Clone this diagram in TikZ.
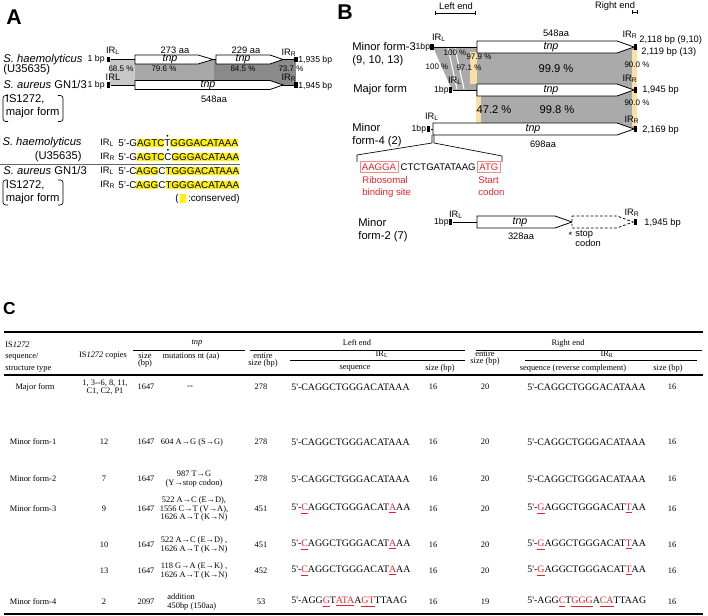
\documentclass[tikz,border=0pt]{standalone}
\usepackage{fontspec}
\setmainfont{Liberation Sans}
\newfontfamily\tabfont{Liberation Serif}
\usetikzlibrary{positioning}
\definecolor{hly}{RGB}{255,242,0}
\definecolor{peach}{RGB}{250,224,165}
\definecolor{grlight}{RGB}{200,200,200}
\definecolor{grmid}{RGB}{168,168,168}
\definecolor{grdark}{RGB}{138,138,138}
\definecolor{grB}{RGB}{170,170,170}
\definecolor{seqred}{RGB}{226,35,45}
\definecolor{boxred}{RGB}{240,140,140}
\newcommand{\hlt}[1]{{\setlength{\fboxsep}{0pt}\colorbox{hly}{\rule[-1pt]{0pt}{6.6pt}#1}}}
\newcommand{\topdot}[1]{\sbox0{#1}\rlap{\hbox to \wd0{\hss\raisebox{6pt}[0pt][0pt]{\fontsize{5}{5}\selectfont\textbullet}\hss}}#1}
\newcommand{\mut}[1]{\textcolor{seqred}{\underline{#1}}}

\begin{document}
\begin{tikzpicture}[x=0.75pt,y=-0.75pt,line width=0.6pt]
	\useasboundingbox (0,0) rectangle (708,616);
	\def \rowhae{59.5}
	\def \rowaur{85}
	\def \rowmthree{47}
	\def \rowmajor{90}
	\def \rowmfour{129}
	\def \rowmtwo{222}
	\tikzstyle{panel}=[font=\fontsize{16}{18}\selectfont\bfseries,inner sep=0pt]
	\tikzstyle{sp}=[font=\fontsize{8.4}{9.8}\selectfont,inner sep=0pt]
	\tikzstyle{lab}=[font=\fontsize{7}{8.2}\selectfont,inner sep=0pt]
	\tikzstyle{bplab}=[font=\fontsize{6.5}{7}\selectfont,inner sep=0pt]
	\tikzstyle{pct}=[font=\fontsize{6}{7}\selectfont,inner sep=0pt]
	\tikzstyle{pct-big}=[font=\fontsize{8.4}{10}\selectfont,inner sep=0pt]
	\tikzstyle{gname}=[font=\fontsize{8}{9}\selectfont\itshape,inner sep=0pt]
	\tikzstyle{seq}=[font=\fontsize{7.4}{8}\selectfont,inner sep=0pt]
	\tikzstyle{ir}=[fill=black,inner sep=0pt,minimum width=2.6pt,minimum height=4.2pt]
	\tikzstyle{gene}=[draw=black,fill=white,line width=0.6pt]
	\tikzstyle{redbox}=[draw=boxred,line width=0.5pt,text=seqred,font=\fontsize{7.2}{8}\selectfont,inner sep=1.4pt]
	\tikzstyle{redtxt}=[text=seqred,font=\fontsize{7.2}{9}\selectfont,inner sep=0pt,align=left]
	\tikzstyle{cell}=[font=\tabfont\fontsize{6.3}{6.2}\selectfont,inner sep=0pt,align=center]
	\tikzstyle{cell-tight}=[font=\tabfont\fontsize{6.3}{5.4}\selectfont,inner sep=0pt,align=center]
	\tikzstyle{tseq}=[font=\tabfont\fontsize{7.4}{8}\selectfont,inner sep=0pt,anchor=west]

	% ---------------- panel A : maps
	\node[panel] (pA) at (14,17) {A};
	\fill[grlight] (110,\rowhae) rectangle (135,\rowaur);
	\fill[grmid] (135,\rowhae) rectangle (214,\rowaur);
	\fill[grdark] (214,\rowhae) rectangle (296,\rowaur);
	\node[ir] (irLhae) at (108.5,\rowhae) {};
	\node[ir] (irRhae) at (296,\rowhae) {};
	\node[ir] (irLaur) at (108.5,\rowaur) {};
	\node[ir] (irRaur) at (296,\rowaur) {};
	\draw (irLhae) -- (irRhae);
	\draw (irLaur) -- (irRaur);
	\draw[gene] (135,55) -- (198,55) -- (213,\rowhae) -- (198,64) -- (135,64) -- cycle;
	\draw[gene] (216,55) -- (270,55) -- (283,\rowhae) -- (270,64) -- (216,64) -- cycle;
	\draw[gene] (135,80.5) -- (270,80.5) -- (283,\rowaur) -- (270,89.5) -- (135,89.5) -- cycle;

	\node[sp,anchor=west] (hae) at (3,\rowhae) {\textit{S. haemolyticus}};
	\node[sp,anchor=west] (hae-acc) at (3,69.5) {(U35635)};
	\node[sp,anchor=west] (aur) at (3,\rowaur) {\textit{S. aureus} GN1/3};
	\node[sp,anchor=west,align=left] (aur-is) at (5.5,106.5) {IS1272,\\major form};
	\draw[line width=0.5pt,rounded corners=2pt] (8,95.5) -- (3,95.5) -- (3,121.5) -- (8,121.5);
	\draw[line width=0.5pt,rounded corners=2pt] (58,95.5) -- (63,95.5) -- (63,121.5) -- (58,121.5);

	\node[bplab,anchor=east] (bp-hae) at (105,\rowhae) {1 bp};
	\node[bplab,anchor=east] (bp-aur) at (105,\rowaur) {1 bp};
	\node[lab] (irL-hae) at (113,51) {IR\textsubscript{L}};
	\node[lab] (irL-aur) at (113,77) {IRL};
	\node[lab] (irR-hae) at (289,53) {IR\textsubscript{R}};
	\node[lab] (irR-aur) at (289,78) {IR\textsubscript{R}};
	\node[bplab,anchor=west] (len-hae) at (298,60.5) {1,935 bp};
	\node[bplab,anchor=west] (len-aur) at (298,86) {1,945 bp};
	\node[lab] (aa-hae1) at (175,50) {273 aa};
	\node[lab] (aa-hae2) at (246,50) {229 aa};
	\node[lab] (aa-aur) at (214,99) {548aa};
	\node[gname] (tnp-hae1) at (170,59.5) {tnp};
	\node[gname] (tnp-hae2) at (243,59.5) {tnp};
	\node[gname] (tnp-aur) at (208,85) {tnp};
	\node[pct] (idA1) at (121,69) {68.5 \%};
	\node[pct] (idA2) at (164,69) {79.6 \%};
	\node[pct] (idA3) at (243,69) {84.5 \%};
	\node[pct] (idA4) at (291,69) {73.7 \%};

	% ---------------- panel A : inverted repeats
	\node[sp,anchor=east] (hae2) at (82,143) {\textit{S. haemolyticus}};
	\node[sp,anchor=east] (hae2-acc) at (82,157) {(U35635)};
	\coordinate (sepL) at (0,164);
	\coordinate (sepR) at (240,164);
	\draw[black!60] (sepL) -- (sepR);
	\node[sp,anchor=west] (aur2) at (3,171) {\textit{S. aureus} GN1/3};
	\node[sp,anchor=west,align=left] (aur2-is) at (5.5,192) {IS1272,\\major form};
	\draw[line width=0.5pt,rounded corners=2pt] (8,180) -- (3,180) -- (3,205) -- (8,205);
	\draw[line width=0.5pt,rounded corners=2pt] (58,180) -- (63,180) -- (63,205) -- (58,205);

	\node[lab,anchor=west] (ir1) at (100,143) {IR\textsubscript{L}};
	\node[lab,anchor=west] (ir2) at (100,157) {IR\textsubscript{R}};
	\node[lab,anchor=west] (ir3) at (100,171) {IR\textsubscript{L}};
	\node[lab,anchor=west] (ir4) at (100,185) {IR\textsubscript{R}};
	\node[seq,anchor=west] (sq1) at (118,143) {5'-G\hlt{AGTC}\topdot{T}\hlt{GGGACATAAA}};
	\node[seq,anchor=west] (sq2) at (118,157) {5'-G\hlt{AGTC}\topdot{C}\hlt{GGGACATAAA}};
	\node[seq,anchor=west] (sq3) at (118,171) {5'-C\hlt{AGG}C\hlt{TGGGACATAAA}};
	\node[seq,anchor=west] (sq4) at (118,185) {5'-C\hlt{AGG}C\hlt{TGGGACATAAA}};
	\node[seq,anchor=east] (cons) at (240,199) {(\,\hlt{\hspace{4.5pt}}\,:conserved)};

	% ---------------- panel B
	\node[panel] (pB) at (345,12) {B};
	\node[lab] (left-end) at (456,6) {Left end};
	\node[lab] (right-end) at (615,6) {Right end};
	\draw[line width=0.5pt] (435,13) -- (475,13) (435,11) -- (435,15) (475,11) -- (475,15);
	\draw[line width=0.5pt] (632,12.5) -- (637,12.5) (632,10.5) -- (632,14.5) (637,10.5) -- (637,14.5);

	% similarity blocks
	\fill[grB] (433,\rowmthree) -- (476,\rowmthree) -- (476,\rowmajor) -- (452,\rowmajor) -- cycle;
	\fill[grB] (476,\rowmthree) rectangle (635,\rowmfour);
	\fill[peach] (470,52) rectangle (477,84);
	\fill[peach] (476,96) rectangle (481,123);
	\fill[peach] (632,50) rectangle (637,126);
	\draw[white,line width=0.8pt] (448,48) -- (457,89) (455,48) -- (464,89);

	% IR ends
	\node[ir] (irLm3) at (432,\rowmthree) {};
	\node[ir] (irRm3) at (635.5,\rowmthree) {};
	\node[ir] (irLmj) at (450.5,\rowmajor) {};
	\node[ir] (irRmj) at (635.5,\rowmajor) {};
	\node[ir] (irLm4) at (428.5,\rowmfour) {};
	\node[ir] (irRm4) at (635.5,\rowmfour) {};
	\node[ir] (irLm2) at (450.5,\rowmtwo) {};
	\node[ir] (irRm2) at (635.5,\rowmtwo) {};
	\coordinate (gm2) at (477,\rowmtwo);
	\draw (irLm3) -- (irRm3);
	\draw (irLmj) -- (irRmj);
	\draw (irLm4) -- (irRm4);
	\draw (irLm2) -- (gm2);

	% tnp genes
	\draw[gene] (477,41) -- (617,41) -- (634,\rowmthree) -- (617,53) -- (477,53) -- cycle;
	\draw[gene] (477,84) -- (617,84) -- (634,\rowmajor) -- (617,96) -- (477,96) -- cycle;
	\draw[gene] (433,123) -- (617,123) -- (634,\rowmfour) -- (617,135) -- (433,135) -- cycle;
	\draw[gene] (477,216) -- (555,216) -- (572,\rowmtwo) -- (555,228) -- (477,228) -- cycle;
	\draw[gene,dash pattern=on 2pt off 1.5pt] (572,216) -- (617,216) -- (633,\rowmtwo) -- (617,228) -- (572,228) -- cycle;

	% row labels
	\node[sp,anchor=west] (m3) at (352,47) {Minor form-3};
	\node[sp,anchor=west] (m3-cp) at (352,61) {(9, 10, 13)};
	\node[sp,anchor=west] (mj) at (353,90) {Major form};
	\node[sp,anchor=west,align=left] (m4) at (352,135) {Minor\\form-4 (2)};
	\node[sp,anchor=west,align=left] (m2) at (358,230) {Minor\\form-2 (7)};
	\node[bplab,anchor=east] (bp-m3) at (430.5,\rowmthree) {1bp};
	\node[bplab,anchor=east] (bp-mj) at (449,\rowmajor) {1bp};
	\node[bplab,anchor=east] (bp-m4) at (426.5,\rowmfour) {1bp};
	\node[bplab,anchor=east] (bp-m2) at (449,\rowmtwo) {1bp};
	\node[lab] (irL-m3) at (439,38) {IR\textsubscript{L}};
	\node[lab] (irL-mj) at (455,81) {IR\textsubscript{L}};
	\node[lab] (irL-m4) at (432,117) {IR\textsubscript{L}};
	\node[lab] (irL-m2) at (456,215) {IR\textsubscript{L}};
	\node[lab] (irR-m3) at (630,35) {IR\textsubscript{R}};
	\node[lab] (irR-mj) at (630,79) {IR\textsubscript{R}};
	\node[lab] (irR-m4) at (632,120) {IR\textsubscript{R}};
	\node[lab] (irR-m2) at (632,213) {IR\textsubscript{R}};
	\node[lab,anchor=west] (len-m3a) at (639,40) {2,118 bp (9,10)};
	\node[lab,anchor=west] (len-m3b) at (641,52.5) {2,119 bp (13)};
	\node[lab,anchor=west] (len-mj) at (642,90.5) {1,945 bp};
	\node[lab,anchor=west] (len-m4) at (642,130) {2,169 bp};
	\node[lab,anchor=west] (len-m2) at (644,223) {1,945 bp};
	\node[lab] (aa-m3) at (556,33) {548aa};
	\node[lab] (aa-m4) at (543,144) {698aa};
	\node[lab] (aa-m2) at (521,236) {328aa};
	\node[gname] (tnp-m3) at (551,\rowmthree) {tnp};
	\node[gname] (tnp-mj) at (551,\rowmajor) {tnp};
	\node[gname] (tnp-m4) at (533,\rowmfour) {tnp};
	\node[gname] (tnp-m2) at (520,\rowmtwo) {tnp};
	\node[lab] (star) at (570.5,235) {*};
	\node[lab,anchor=west,align=left] (stop) at (575,238.5) {stop\\codon};

	% identities
	\node[pct] (idB1) at (455,53) {100 \%};
	\node[pct] (idB2) at (437,67) {100 \%};
	\node[pct] (idB3) at (469,68) {97.1 \%};
	\node[pct] (idB4) at (479,57) {97.9 \%};
	\node[pct-big] (idB5) at (556,68.5) {99.9 \%};
	\node[pct] (idB6) at (637,65) {90.0 \%};
	\node[pct-big] (idB7) at (494,110) {47.2 \%};
	\node[pct-big] (idB8) at (557,110) {99.8 \%};
	\node[pct] (idB9) at (637,103) {90.0 \%};

	% upstream region of minor form-4
	\node[redbox] (rbs) at (379,167) {AAGGA};
	\node[seq,font=\fontsize{7.2}{8}\selectfont,right=1.5pt of rbs] (spacer) {CTCTGATATAAG};
	\node[redbox,right=0.8pt of spacer] (atg) {ATG};
	\node[redtxt,anchor=north west] (rbs-lab) at (362,176.5) {Ribosomal\\binding site};
	\node[redtxt,anchor=north west] (atg-lab) at (478,176.5) {Start\\codon};
	\coordinate (zl) at (357,162);
	\coordinate (zr) at (502,162);
	\draw[line width=0.5pt] (432,135) -- (432,143) -- (357,155) -- (zl);
	\draw[line width=0.5pt] (434,135) -- (434,143) -- (502,156) -- (zr);

	% ---------------- panel C : table
	\node[panel,font=\fontsize{13}{15}\selectfont\bfseries] (pC) at (9.5,309) {C};
	\draw[line width=1.2pt] (4,332) -- (703,332);
	\draw[line width=0.9pt] (4,375) -- (703,375);
	\draw[line width=1.2pt] (4,614) -- (703,614);
	\draw[line width=0.5pt] (133,350) -- (245,350) (250,350) -- (465,350) (476,350) -- (702,350)
		(290,360) -- (465,360) (525,360) -- (697,360);

	% header
	\node[cell,font=\tabfont\fontsize{6.3}{8.7}\selectfont,anchor=west,align=left] (hType) at (5,357) {IS\textit{1272}\\sequence/\\structure type};
	\node[cell] (hCopies) at (103,356) {IS\textit{1272} copies};
	\node[cell] (hTnp) at (197,343) {\textit{tnp}};
	\node[cell-tight] (hSize) at (145,360) {size\\(bp)};
	\node[cell] (hMut) at (191,356) {mutations nt (aa)};
	\node[cell-tight] (hEntL) at (263,360) {entire\\size (bp)};
	\node[cell] (hLeft) at (357,343) {Left end};
	\node[cell] (hIRL) at (382,354) {IR\textsubscript{L}};
	\node[cell] (hSeqL) at (355,368) {sequence};
	\node[cell] (hSzL) at (440,368) {size (bp)};
	\node[cell-tight] (hEntR) at (485,358) {entire\\size (bp)};
	\node[cell] (hRight) at (568,343) {Right end};
	\node[cell] (hIRR) at (607,354) {IR\textsubscript{R}};
	\node[cell] (hSeqR) at (573,368) {sequence (reverse complement)};
	\node[cell] (hSzR) at (668,368) {size (bp)};

	% body
	\node[cell] (type1) at (35,387) {Major form};
	\node[cell] (type2) at (33,442) {Minor form-1};
	\node[cell] (type3) at (33,479) {Minor form-2};
	\node[cell] (type4) at (33,509) {Minor form-3};
	\node[cell] (type5) at (33,602) {Minor form-4};
	\node[cell] (cp1) at (105,387) {1, 3--6, 8, 11,\\C1, C2, P1};
	\node[cell] (cp2) at (104,442) {12};
	\node[cell] (cp3) at (104,479) {7};
	\node[cell] (cp4) at (104,509) {9};
	\node[cell] (cp5) at (104,545) {10};
	\node[cell] (cp6) at (104,571) {13};
	\node[cell] (cp7) at (104,602) {2};
	\foreach \ry in {387,442,479,509,545,571}
		\node[cell] (size\ry) at (146,\ry) {1647};
	\node[cell] (size602) at (146,602) {2097};
	\node[cell] (mut1) at (190,387) {\textbf{--}};
	\node[cell] (mut2) at (192,442) {604 A→G (S→G)};
	\node[cell] (mut3) at (194,479) {987 T→G\\(Y→stop codon)};
	\node[cell] (mut4) at (194,509) {522 A→C (E→D),\\1556 C→T (V→A),\\1626 A→T (K→N)};
	\node[cell] (mut5) at (194,545) {522 A→C (E→D) ,\\1626 A→T (K→N)};
	\node[cell] (mut6) at (194,571) {118 G→A (E→K) ,\\1626 A→T (K→N)};
	\node[cell,anchor=west,align=left] (mut7) at (167,602) {addition\\450bp (150aa)};
	\foreach \ry/\entl/\entr in {387/278/20,442/278/20,479/278/20,509/451/20,545/451/20,571/452/20,602/53/19} {
		\node[cell] (entL\ry) at (261,\ry) {\entl};
		\node[cell] (szL\ry) at (433,\ry) {16};
		\node[cell] (entR\ry) at (485,\ry) {\entr};
		\node[cell] (szR\ry) at (672,\ry) {16};
	}
	\foreach \ry in {387,442,479} {
		\node[tseq] (seqL\ry) at (291,\ry) {5'-CAGGCTGGGACATAAA};
		\node[tseq] (seqR\ry) at (527,\ry) {5'-CAGGCTGGGACATAAA};
	}
	\foreach \ry in {509,545,571} {
		\node[tseq] (seqL\ry) at (291,\ry) {5'-\mut{C}AGGCTGGGACAT\mut{A}AA};
		\node[tseq] (seqR\ry) at (527,\ry) {5'-\mut{G}AGGCTGGGACAT\mut{T}AA};
	}
	\node[tseq] (seqL602) at (291,602) {5'-AGG\mut{G}T\mut{ATA}A\mut{GT}TTAAG};
	\node[tseq] (seqR602) at (527,602) {5'-AGG\mut{C}T\mut{GGG}A\mut{CA}TTAAG};
\end{tikzpicture}
\end{document}
